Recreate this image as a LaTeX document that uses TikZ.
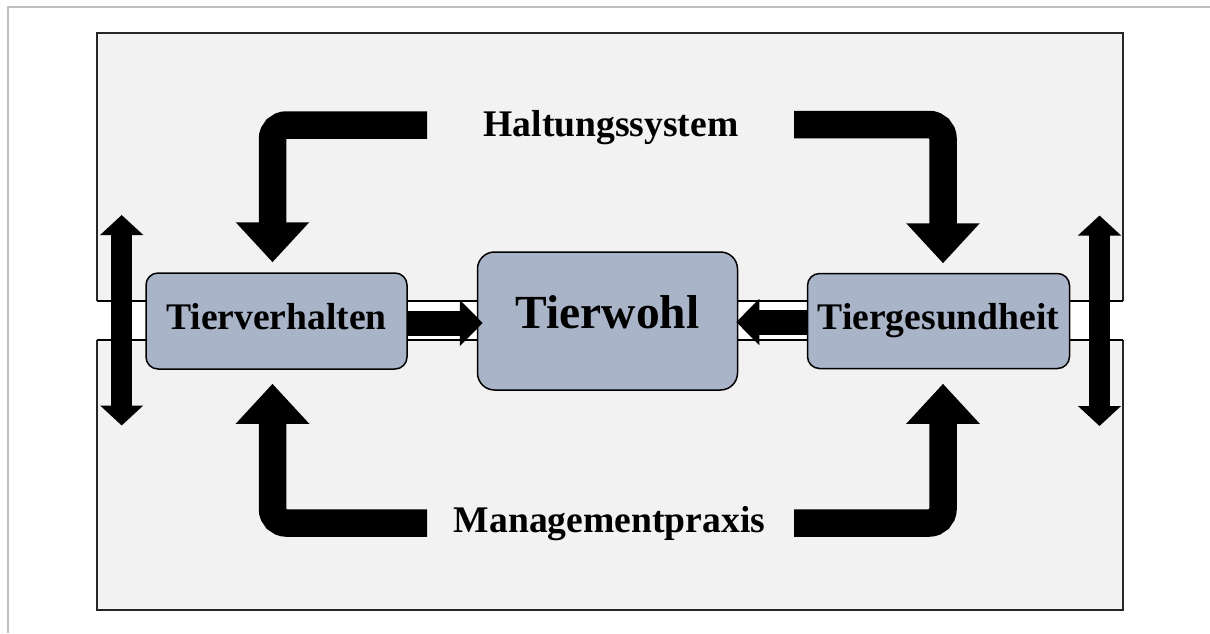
\documentclass[tikz,border=0pt]{standalone}
\usepackage{fontspec}
\setmainfont{Liberation Serif}
\usetikzlibrary{arrows.meta, positioning}

\definecolor{panelgrey}{HTML}{F2F2F2}
\definecolor{boxblue}{HTML}{AAB4C8}
\definecolor{pagegrey}{HTML}{C0C0C0}

\begin{document}
\begin{tikzpicture}[x=1pt, y=-1pt, node distance=331pt,
    factor/.style={draw=black, line width=1.5pt, fill=boxblue, rounded corners=12pt,
        minimum width=261pt, minimum height=96pt, inner sep=0pt,
        font=\bfseries\fontsize{37.6}{44}\selectfont, text height=25pt, text depth=7.5pt},
    goal/.style={factor, rounded corners=17pt, minimum width=260pt, minimum height=138pt,
        font=\bfseries\fontsize{47.5}{56}\selectfont, text height=31pt, text depth=16pt},
    caption/.style={font=\bfseries\fontsize{37.6}{44}\selectfont, anchor=base, inner sep=0pt},
    bentarrow/.style={line width=27.5pt, rounded corners=14pt, -{Triangle[length=40pt, width=71pt]}},
    pusharrow/.style={line width=25pt, -{Triangle[length=23pt, width=45pt]}},
    swingarrow/.style={line width=21pt, {Triangle[length=20pt, width=42pt]}-{Triangle[length=20pt, width=42pt]}}]
    \useasboundingbox (0,0) rectangle (1210,633);
    % page edge
    \draw[pagegrey, line width=2pt] (8,633) -- (8,6.5) -- (1210,6.5);

    % panel with the open band in the middle
    \draw[fill=panelgrey, draw=black!85, line width=2pt] (97,33) rectangle (1123,610);
    \fill[white] (95,301) rectangle (1125,340);
    \draw[line width=1.5pt] (97,301) -- (1123,301);
    \draw[line width=1.5pt] (97,340) -- (1123,340);

    % the three factors
    \node[factor] (tv) at (276.5,321) {Tierverhalten};
    \node[goal] (tw) [right of=tv] {Tierwohl};
    \node[factor, minimum width=262pt, minimum height=95pt] (tg) [right of=tw] {Tiergesundheit};

    % outer influences
    \node[caption] (hal) at (611,136) {Haltungssystem};
    \node[caption] (man) at (609.5,532) {Managementpraxis};
    \coordinate (hal-l) at (427,125);
    \coordinate (hal-r) at (794,124.5);
    \coordinate (man-l) at (427,523);
    \coordinate (man-r) at (794,523);

    % bent arrows onto the factors
    \draw[bentarrow, shorten >=10pt] (hal-l) -| ([xshift=-4pt]tv.north);
    \draw[bentarrow, shorten >=9.5pt] (hal-r) -| ([xshift=4.5pt]tg.north);
    \draw[bentarrow, shorten >=14pt] (man-l) -| ([xshift=-4pt]tv.south);
    \draw[bentarrow, shorten >=14.5pt] (man-r) -| ([xshift=4.5pt]tg.south);

    % both feed animal welfare
    \draw[pusharrow, shorten >=-6pt] ([yshift=-2pt]tv.east) -- ([yshift=-2pt]tw.west);
    \draw[pusharrow, shorten >=-2pt] ([yshift=-1pt]tg.west) -- ([yshift=-1pt]tw.east);

    % up and down along the sides
    \coordinate (sl-t) at (121.7,215);
    \coordinate (sl-b) at (121.7,425.5);
    \coordinate (sr-t) at (1099.5,215.5);
    \coordinate (sr-b) at (1099.5,426);
    \draw[swingarrow] (sl-t) -- (sl-b);
    \draw[swingarrow] (sr-t) -- (sr-b);
\end{tikzpicture}
\end{document}
